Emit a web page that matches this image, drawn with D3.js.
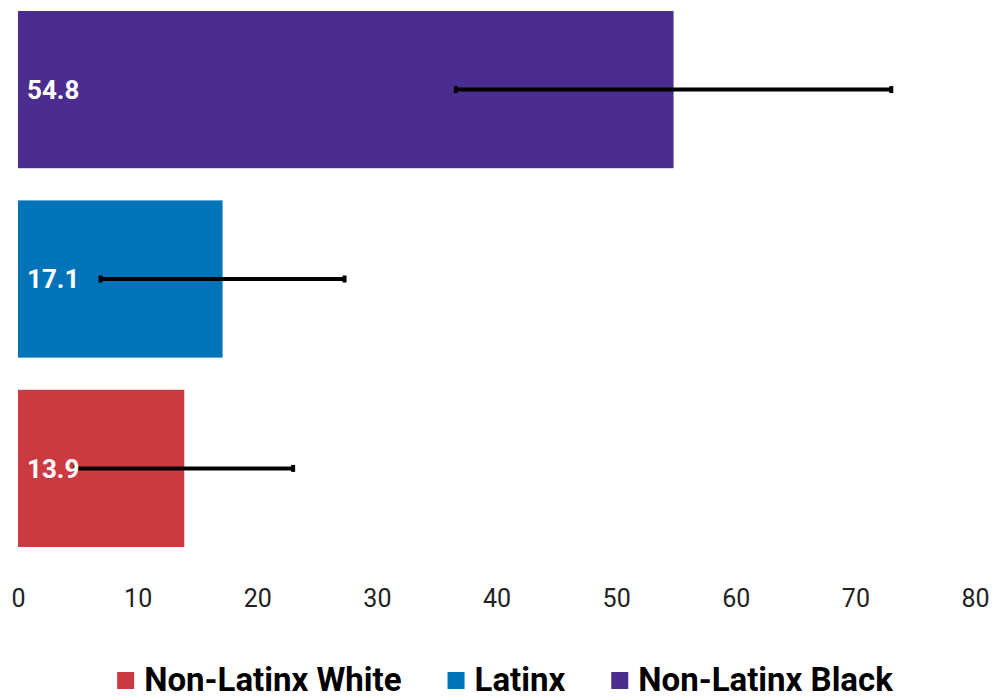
<!DOCTYPE html>
<html>
<head>
<meta charset="utf-8">
<script src="https://cdn.jsdelivr.net/npm/d3@7"></script>
<style>
  html, body { margin: 0; padding: 0; background: #fff; }
  svg { display: block; font-family: Roboto, "Noto Sans", sans-serif; }
</style>
</head>
<body>
<svg id="chart" width="993" height="700"></svg>
<script>
const categories = ["Non-Latinx Black", "Latinx", "Non-Latinx White"];
const values = [54.8, 17.1, 13.9];
const lowerCI = [36.6, 6.9, 4.8];
const upperCI = [73.0, 27.3, 23.0];
const colors = ["#4b2c8f", "#0073b9", "#cc3a41"];
const xTicks = [0, 10, 20, 30, 40, 50, 60, 70, 80];
const legendOrder = ["Non-Latinx White", "Latinx", "Non-Latinx Black"];

const svg = d3.select("#chart");
const x = d3.scaleLinear().domain([0, 80]).range([18, 975]);
const y = d3.scaleBand().domain(categories).range([11, 547]).paddingInner(0.17).paddingOuter(0);
const color = d3.scaleOrdinal().domain(categories).range(colors);

const data = categories.map((c, i) => ({ cat: c, v: values[i], lo: lowerCI[i], hi: upperCI[i] }));

// bars
svg.append("g").selectAll("rect").data(data).join("rect")
  .attr("x", x(0))
  .attr("y", d => y(d.cat))
  .attr("width", d => x(d.v) - x(0))
  .attr("height", y.bandwidth())
  .attr("fill", d => color(d.cat));

// error bars
const eb = svg.append("g").selectAll("g").data(data).join("g");
eb.append("line")
  .attr("x1", d => x(d.lo)).attr("x2", d => x(d.hi))
  .attr("y1", d => y(d.cat) + y.bandwidth() / 2)
  .attr("y2", d => y(d.cat) + y.bandwidth() / 2)
  .attr("stroke", "#000").attr("stroke-width", 4);
["lo", "hi"].forEach(k => {
  eb.append("line")
    .attr("x1", d => x(d[k])).attr("x2", d => x(d[k]))
    .attr("y1", d => y(d.cat) + y.bandwidth() / 2 - 3.5)
    .attr("y2", d => y(d.cat) + y.bandwidth() / 2 + 3.5)
    .attr("stroke", "#000").attr("stroke-width", 4);
});

// value labels
svg.append("g").selectAll("text").data(data).join("text")
  .attr("x", x(0) + 9)
  .attr("y", d => y(d.cat) + y.bandwidth() / 2)
  .attr("dy", "0.36em")
  .attr("fill", "#fff")
  .attr("font-size", 26)
  .attr("font-weight", "bold")
  .text(d => d.v.toFixed(1));

// x axis
const axis = svg.append("g")
  .attr("transform", "translate(0,588)")
  .call(d3.axisBottom(x).tickValues(xTicks).tickSize(0).tickPadding(0));
axis.select(".domain").remove();
axis.selectAll("text")
  .attr("font-size", 25)
  .attr("font-family", "Roboto, sans-serif")
  .attr("fill", "#222")
  .attr("dy", "0.75em");

// legend
const legend = svg.append("g").attr("transform", "translate(0,691)");
const items = [];
legendOrder.forEach(name => {
  const g = legend.append("g");
  g.append("rect").attr("x", 0).attr("y", -19).attr("width", 17).attr("height", 17).attr("fill", color(name));
  const t = g.append("text").attr("x", 27).attr("y", 0)
    .attr("font-size", 33).attr("font-weight", "bold").attr("fill", "#000").text(name);
  const w = 27 + t.node().getComputedTextLength();
  items.push({ g, w });
});
const gap = 46;
const total = d3.sum(items, d => d.w) + gap * (items.length - 1);
let start = 505 - total / 2;
items.forEach(it => {
  it.g.attr("transform", `translate(${start},0)`);
  start += it.w + gap;
});
</script>
</body>
</html>
